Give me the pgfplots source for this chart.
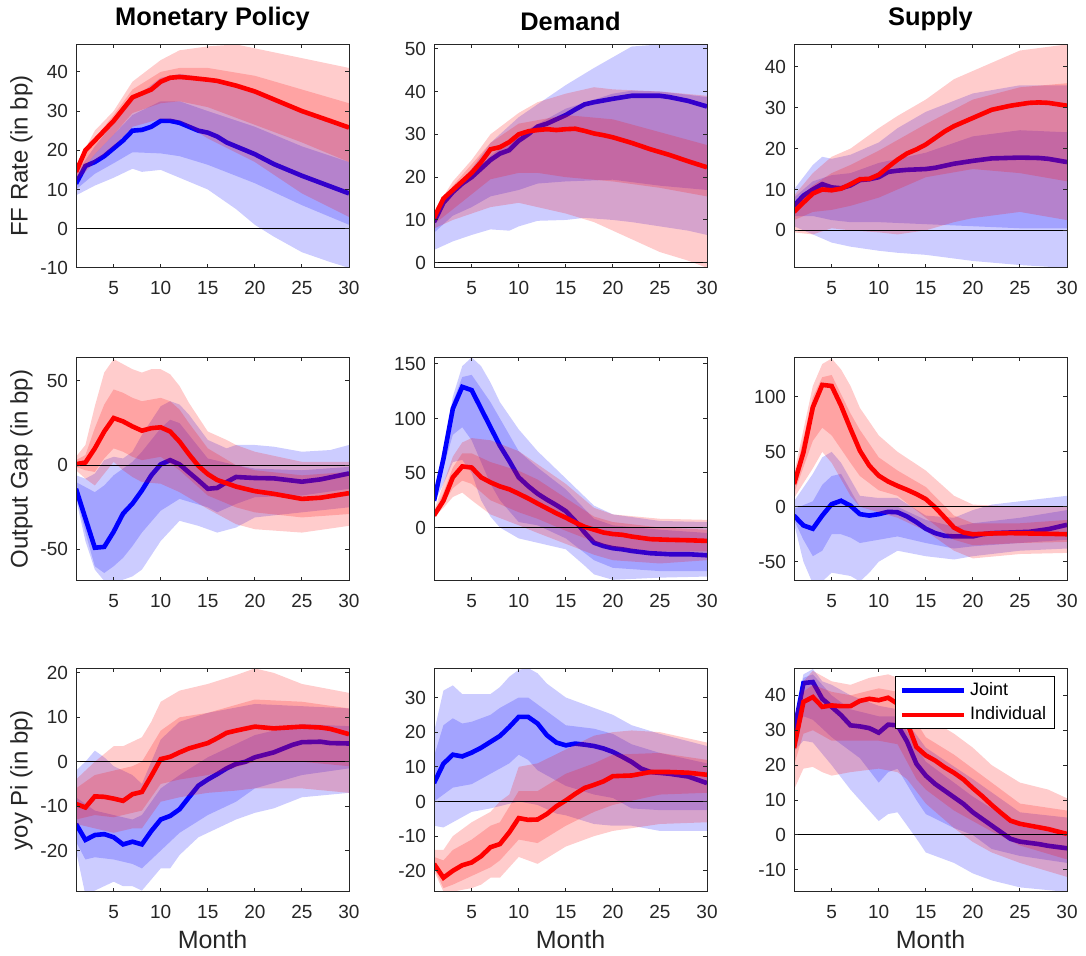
\documentclass[border=0pt]{standalone}
\usepackage{pgfplots}
\pgfplotsset{compat=1.18}
\usepackage{fontspec}
\setmainfont{Liberation Sans}
\definecolor{axisgray}{RGB}{38,38,38}
% band polygon: lower edge left to right, then upper edge right to left
\newcommand{\band}[2]{%
  \addplot[fill=#1, fill opacity=0.2, draw=none, forget plot] coordinates {#2} -- cycle;
}
\newcommand{\zeroline}{\addplot[forget plot, black, line width=0.5pt] coordinates {(1,0) (30,0)};}
\pgfplotsset{
  panel/.style={
    scale only axis, width=136.5pt, height=111.75pt,
    anchor=south west,
    xmin=1, xmax=30, xtick={5,10,15,20,25,30},
    tick align=inside, major tick length=2pt,
    axis line style={draw=axisgray, line width=0.5pt},
    every tick/.style={draw=axisgray, line width=0.5pt},
    tick label style={font=\fontsize{9.5}{11}\selectfont, text=axisgray},
    /pgf/number format/assume math mode=true,
    xticklabel style={yshift=-3pt},
    yticklabel style={xshift=-0.5pt},
    xlabel style={font=\fontsize{12.5}{14}\selectfont, text=axisgray,
      at={(axis description cs:0.5,0)}, anchor=base, yshift=-28.5pt},
    ylabel style={font=\fontsize{12}{14}\selectfont, text=axisgray,
      at={(axis description cs:-0.2,0.5)}, anchor=center},
    title style={font=\bfseries\fontsize{12.7}{14}\selectfont, yshift=-2.5pt},
    axis on top, scaled ticks=false,
  },
  bmed/.style={line width=2.3pt, blue},
  rmed/.style={line width=2.3pt, red},
}
\begin{document}
\begin{tikzpicture}

% ---------- Row 1: FF Rate ----------
\begin{axis}[panel, at={(38pt,343pt)}, ymin=-10, ymax=47, ytick={-10,0,10,20,30,40},
  title={Monetary Policy}, ylabel={FF Rate (in bp)}]
\band{blue}{(1,8.5)(3,11)(5,13)(7,15.3)(8,14.5)(10,15)(12,13)(15,10)(18,5)(20,1)(22,-2)(25,-6)(28,-8.5)(30,-10)(30,26)(25,30)(20,35)(15,38.5)(12,39.5)(10,38.5)(7,33)(5,27)(3,21)(1,14)}
\band{blue}{(1,10)(3,14)(5,16.7)(7,19.5)(10,19.2)(12,18.5)(15,16.3)(20,11.6)(25,6)(30,1)(30,17)(25,21)(20,26)(15,30)(12,32.5)(10,32.5)(7,29)(5,24)(3,19)(1,13)}
\addplot[bmed] coordinates {(1,11.5)(2,16)(3,17)(4,18.5)(5,20.5)(6,22.5)(7,25)(8,25.2)(9,26)(10,27.5)(11,27.5)(12,27)(13,26)(14,25)(15,24.5)(16,23.5)(17,22)(18,21)(20,19)(22,16.5)(25,13.5)(28,10.8)(30,9)};
\band{red}{(1,12)(3,17)(5,21)(7,26)(10,28)(12,27.5)(15,23)(20,17)(25,9)(30,3)(30,41)(28,42)(25,43.5)(22,45)(20,46)(18,47)(15,46.5)(12,45.5)(10,43)(7,37.5)(5,30)(3,25)(1,16)}
\band{red}{(1,13)(3,19)(5,24)(7,29.5)(10,32)(12,32.5)(15,31)(20,26.5)(25,22)(30,17)(30,32)(25,35.5)(20,39)(15,41)(12,41)(10,40)(7,35.5)(5,29)(3,23)(1,15)}
\addplot[rmed] coordinates {(1,14.5)(2,20)(3,22.5)(4,25)(5,27.5)(6,30.5)(7,33.5)(8,34.5)(9,35.5)(10,37.5)(11,38.5)(12,38.7)(13,38.5)(15,38)(16,37.7)(18,36.5)(20,35)(22,33)(25,30)(28,27.5)(30,25.8)};
\zeroline
\end{axis}

\begin{axis}[panel, at={(217pt,343pt)}, ymin=-1.2, ymax=51, ytick={0,10,20,30,40,50},
  title={Demand}]
\band{blue}{(1,3)(3,5)(5,6.5)(7,7.8)(9,7.5)(10,8.5)(12,9.8)(15,10)(17,10.5)(20,10)(22,9.5)(25,8.5)(28,7.5)(30,6.5)(30,51)(25,51)(22,50.5)(20,48)(18,45.5)(15,41.5)(12,37)(10,34)(7,28)(5,22)(3,17)(1,11)}
\band{blue}{(1,7)(3,11)(5,13)(7,15.5)(10,17)(12,18.5)(15,19)(20,19.4)(25,18)(30,17)(30,38.7)(25,40)(22,40.2)(20,39.5)(15,36)(10,30)(7,25)(5,20)(3,16)(1,10)}
\addplot[bmed] coordinates {(1,9.5)(2,14)(3,16.5)(4,18.5)(5,20)(6,22)(7,24)(8,25.5)(9,26.3)(10,28.5)(11,30)(12,31.8)(13,32.5)(14,33.5)(15,34.5)(16,35.8)(17,37)(18,37.5)(20,38.3)(22,39)(24,39)(25,39)(26,38.7)(28,37.8)(30,36.5)};
\band{red}{(1,8)(3,10)(5,11.5)(7,13)(10,14)(12,13)(15,11.5)(18,9.5)(20,7.5)(23,4.5)(25,2.5)(28,0.5)(30,-1.2)(30,39)(25,40)(20,40.5)(18,41)(15,39.5)(12,37.5)(10,35)(7,30)(5,24)(3,19)(1,12)}
\band{red}{(1,9)(3,12.5)(5,16)(7,19.5)(10,21)(12,21)(15,20)(20,19)(25,17.5)(30,15.5)(30,27.5)(25,30.5)(20,33.5)(15,34.5)(10,32.5)(7,28)(5,23)(3,18)(1,11)}
\addplot[rmed] coordinates {(1,10.5)(2,15)(3,17)(4,19)(5,21)(6,23.5)(7,26.5)(8,27)(9,28.2)(10,30)(11,30.7)(12,31)(13,31.2)(14,31)(15,31.2)(16,31.3)(17,30.8)(18,30.2)(19,29.8)(20,29.3)(22,28)(24,26.5)(26,25.2)(28,23.7)(30,22.3)};
\zeroline
\end{axis}

\begin{axis}[panel, at={(397pt,343pt)}, ymin=-9.2, ymax=45.5, ytick={0,10,20,30,40},
  title={Supply}]
\band{blue}{(1,1)(3,-1)(5,-3)(7,-4)(10,-5)(12,-5.5)(15,-6)(20,-7.5)(25,-8.5)(30,-9.2)(30,35.5)(25,35.5)(20,33.5)(15,29)(12,25)(10,21.5)(7,18.5)(5,17.5)(4,18)(3,16)(1,10)}
\band{blue}{(1,3.5)(3,3.5)(5,2.5)(7,2)(10,2)(15,1.5)(20,1)(25,0.5)(30,0.5)(30,24)(25,24.5)(20,23)(15,19)(10,16.5)(7,14)(5,13.5)(3,12)(1,8)}
\addplot[bmed] coordinates {(1,6)(2,8.5)(3,10)(4,11.3)(5,10.5)(6,10.3)(7,11)(8,12.3)(9,12.5)(10,13)(11,14.3)(12,14.6)(13,14.8)(15,15)(16,15.3)(18,16.3)(20,17)(22,17.6)(25,17.8)(27,17.7)(28,17.5)(30,16.7)};
\band{red}{(1,-0.5)(3,-1)(5,0.5)(7,0)(10,-0.5)(12,-1)(15,0)(18,2)(20,3)(25,4.5)(30,2.5)(30,45.5)(25,44)(20,39)(18,37)(15,32)(12,28)(10,25)(7,20)(5,18)(3,14)(1,8.5)}
\band{red}{(1,2.5)(3,4.5)(5,5)(7,6)(10,8)(15,13)(20,15)(25,14)(30,12)(30,36)(25,35)(20,32)(15,26)(10,19.5)(7,16)(5,14)(3,11)(1,6.5)}
\addplot[rmed] coordinates {(1,4.5)(2,6.8)(3,9)(4,10)(5,9.8)(6,10.2)(7,11.3)(8,12.5)(9,12.6)(10,13.6)(11,15.5)(12,17.3)(13,18.8)(14,19.8)(15,21)(16,22.6)(17,24.2)(18,25.5)(20,27.5)(22,29.5)(24,30.5)(26,31.2)(27,31.3)(28,31.2)(30,30.5)};
\zeroline
\end{axis}

% ---------- Row 2: Output Gap ----------
\begin{axis}[panel, at={(38pt,186.5pt)}, ymin=-68.7, ymax=64, ytick={-50,0,50},
  ylabel={Output Gap (in bp)}]
\band{blue}{(1,-20)(2,-45)(3,-62)(4,-68.7)(5,-68.7)(6,-68)(7,-66)(8,-62)(10,-45)(12,-33)(14,-36)(16,-40)(18,-37)(20,-31)(25,-28)(30,-25)(30,12)(28,9)(25,8)(22,11)(20,12)(18,12)(17,10)(15,15)(13,30)(12,36)(11,38)(10,35)(8,18)(7,8)(6,4)(5,5)(4,3)(3,-5)(2,-8)(1,-6)}
\band{blue}{(1,-18)(2,-40)(3,-60)(4,-64)(5,-60)(6,-55)(7,-48)(8,-40)(10,-27)(12,-20)(15,-25)(16,-28)(18,-23)(20,-19)(25,-18)(30,-14)(30,-1)(25,-3)(20,-2)(18,0)(15,4)(12,25)(11,27)(10,22)(8,8)(7,2)(6,-2)(5,-6)(4,-12)(3,-16)(2,-13)(1,-10)}
\addplot[bmed] coordinates {(1,-14)(2,-31.6)(3,-49)(4,-48.5)(5,-39.5)(6,-28.7)(7,-22.8)(8,-15)(9,-6)(10,0.5)(11,3)(12,0.5)(13,-4.3)(14,-9)(15,-14)(16,-13.5)(17,-10)(18,-7)(20,-7.6)(22,-7.8)(25,-9.8)(27,-8.4)(30,-4.9)};
\band{red}{(1,-3)(2,-8)(3,-12)(4,-5)(5,2)(6,-3)(7,-7)(8,-10)(10,-11)(12,-16)(15,-26)(18,-35)(20,-38)(25,-40)(30,-36)(30,2)(25,2)(20,8)(18,12)(17,15)(15,20)(13,37)(12,47)(11,54)(10,57)(9,57)(8,55)(7,57)(6,60)(5,63)(4,55)(3,35)(2,12)(1,5)}
\band{red}{(1,-1)(2,-3)(3,-4)(4,4)(5,10)(6,8)(7,5)(8,3)(10,5)(12,-3)(15,-18)(18,-25)(20,-28)(25,-31)(30,-29)(30,-4)(25,-6)(20,-3)(18,0)(15,10)(13,25)(12,33)(11,38)(10,40)(8,38)(7,40)(6,43)(5,45)(4,36)(3,22)(2,6)(1,3)}
\addplot[rmed] coordinates {(1,0.6)(2,1.6)(3,10)(4,20)(5,28)(6,26)(7,23)(8,20.5)(9,22)(10,22.5)(11,20)(12,14)(13,6.5)(14,-0.4)(15,-5.3)(16,-8.8)(17,-10.7)(18,-12.7)(20,-15.4)(22,-17)(25,-20)(27,-19.3)(30,-16.6)};
\zeroline
\end{axis}

\begin{axis}[panel, at={(217pt,186.5pt)}, ymin=-49, ymax=156, ytick={0,50,100,150}]
\band{blue}{(1,22)(2,40)(3,60)(4,62)(5,50)(6,25)(7,10)(8,0)(10,-10)(12,-14)(15,-20)(17,-35)(18,-43)(20,-48)(25,-46)(30,-45)(30,5)(25,6)(20,12)(18,20)(15,45)(12,70)(10,90)(8,115)(7,133)(6,148)(5,156)(4,148)(3,120)(2,70)(1,27)}
\band{blue}{(1,23)(2,55)(3,85)(4,92)(5,80)(6,60)(7,40)(8,25)(10,5)(12,2)(15,-10)(18,-30)(20,-37)(25,-40)(30,-40)(30,-5)(25,-2)(20,2)(18,8)(15,35)(12,55)(10,70)(7,115)(5,140)(4,138)(3,115)(2,70)(1,26)}
\addplot[bmed] coordinates {(1,24.5)(2,63)(3,109)(4,129)(5,126)(6,109)(7,92)(8,75)(9,61)(10,46)(11,38)(12,31)(13,25.5)(14,20.5)(15,15)(16,6)(17,-4.6)(18,-14)(19,-17)(20,-19)(21,-20)(22,-21.5)(24,-23.6)(26,-24.5)(28,-24.5)(30,-25.5)};
\band{red}{(1,10)(2,18)(3,28)(4,32)(5,25)(7,12)(10,2)(12,-5)(15,-15)(18,-25)(20,-30)(25,-33)(30,-30)(30,7)(25,8)(20,12)(18,18)(15,40)(12,58)(10,70)(7,80)(5,82)(4,78)(3,65)(2,40)(1,15)}
\band{red}{(1,11)(2,22)(3,36)(4,43)(5,40)(7,25)(10,14)(12,8)(15,-3)(18,-13)(20,-18)(25,-22)(30,-22)(30,-2)(25,0)(20,5)(18,10)(15,27)(12,44)(10,52)(7,60)(5,68)(4,68)(3,55)(2,32)(1,14)}
\addplot[rmed] coordinates {(1,11)(2,24.5)(3,46)(4,56)(5,55)(6,46)(7,41.4)(8,37.7)(9,35)(10,31)(11,26.7)(12,22)(13,17.5)(14,13)(15,9)(16,4.6)(17,0.6)(18,-2)(19,-4.6)(20,-6)(21,-6.7)(22,-8.3)(24,-10.7)(26,-11.3)(28,-11.7)(30,-12.3)};
\zeroline
\end{axis}

\begin{axis}[panel, at={(397pt,186.5pt)}, ymin=-67.5, ymax=136, ytick={-50,0,50,100}]
\band{blue}{(1,-15)(2,-50)(3,-70)(4,-68)(5,-60)(7,-63)(8,-68)(9,-60)(10,-50)(12,-40)(15,-45)(18,-48)(20,-45)(25,-40)(30,-38)(30,10)(25,5)(22,2)(20,-3)(18,-10)(15,-8)(12,8)(10,8)(8,10)(7,25)(6,40)(5,50)(4,45)(3,30)(1,5)}
\band{blue}{(1,-12)(2,-30)(3,-45)(4,-40)(5,-25)(6,-25)(7,-28)(8,-33)(10,-30)(12,-27)(15,-33)(18,-38)(20,-36)(25,-33)(30,-30)(30,-3)(25,-10)(20,-15)(18,-18)(15,-12)(12,0)(10,0)(8,0)(7,15)(6,30)(5,28)(4,20)(3,5)(1,-2)}
\addplot[bmed] coordinates {(1,-8)(2,-17)(3,-20)(4,-8)(5,2.4)(6,5.5)(7,1)(8,-6.7)(9,-8)(10,-6.7)(11,-4.6)(12,-5)(13,-8.8)(14,-14)(15,-20)(16,-24)(17,-26.4)(18,-27)(20,-27)(21,-25)(22,-24)(24,-23.4)(26,-22.8)(28,-20.4)(30,-16.4)};
\band{red}{(1,8)(3,35)(4,50)(5,40)(6,25)(7,10)(8,0)(10,-5)(12,-10)(15,-22)(18,-40)(20,-47)(25,-43)(30,-42)(30,0)(25,0)(20,2)(18,10)(15,33)(12,50)(10,65)(8,90)(7,110)(6,125)(5,135)(4,130)(3,110)(2,70)(1,30)}
\band{red}{(1,12)(3,60)(4,72)(5,65)(7,40)(8,28)(10,15)(12,10)(15,-10)(18,-30)(20,-35)(25,-33)(30,-32)(30,-12)(25,-15)(20,-15)(18,-8)(15,18)(12,33)(10,45)(8,70)(7,85)(5,120)(4,118)(3,100)(1,25)}
\addplot[rmed] coordinates {(1,20.7)(2,49.5)(3,90.6)(4,111)(5,110)(6,92)(7,71)(8,51)(9,37.4)(10,28.3)(11,23)(12,19)(13,15.5)(14,11.6)(15,7)(16,-0.6)(17,-9.7)(18,-19)(19,-23.4)(20,-25)(22,-24.3)(24,-24)(26,-24.3)(28,-24.6)(30,-25)};
\zeroline
\end{axis}

% ---------- Row 3: yoy Pi ----------
\begin{axis}[panel, at={(38pt,31pt)}, ymin=-29.3, ymax=21, ytick={-20,-10,0,10,20},
  ylabel={yoy Pi (in bp)}, xlabel={Month}]
\band{blue}{(1,-20)(2,-30)(3,-29)(4,-28)(5,-27)(6,-28)(7,-28)(8,-29)(10,-24)(11,-24)(12,-21)(14,-17)(15,-16)(18,-13)(20,-11.5)(22,-10.5)(25,-8)(30,-7)(30,12)(25,12.5)(20,13)(15,11)(12,9)(10,5)(8,-5)(7,-3)(6,-2)(5,-1)(4,1)(3,2.5)(2,0)(1,-2)}
\band{blue}{(1,-18)(2,-22)(3,-21.5)(5,-22)(7,-23)(8,-24)(10,-20)(12,-16)(15,-12)(18,-9)(20,-6)(25,-3)(30,-1.5)(30,8)(25,8.5)(20,6)(15,1)(12,-3)(10,-6)(8,-12)(7,-13)(5,-12)(3,-11)(1,-8)}
\addplot[bmed] coordinates {(1,-14)(2,-17.6)(3,-16.5)(4,-16.3)(5,-17)(6,-18.6)(7,-18)(8,-18.6)(9,-15.6)(10,-13)(11,-12.2)(12,-10.7)(13,-8)(14,-5.4)(15,-4)(16,-2.8)(17,-1.5)(18,-0.5)(19,0)(20,1)(22,2.1)(24,3.8)(25,4.4)(27,4.5)(28,4.2)(30,4.1)};
\band{red}{(1,-14)(3,-15)(5,-16)(7,-15)(8,-15)(10,-9)(12,-8)(15,-7)(18,-6.5)(20,-6)(25,-6)(30,-7)(30,15.5)(25,17.5)(22,20)(20,21)(18,19.5)(15,17.5)(12,16)(10,13.5)(9,9)(8,5.5)(7,4.5)(6,3.5)(5,3.5)(3,0)(1,-4)}
\band{red}{(1,-13)(3,-12)(5,-12.5)(7,-11.5)(8,-11)(10,-5)(12,-4)(15,-3)(20,0)(25,0)(30,-1)(30,12)(25,13.5)(20,14)(15,11)(12,10)(10,7)(8,0)(7,-1)(5,-2)(3,-3)(1,-6)}
\addplot[rmed] coordinates {(1,-9.5)(2,-10.3)(3,-7.8)(4,-7.9)(5,-8.3)(6,-8.8)(7,-7.3)(8,-6.8)(9,-3.2)(10,0.6)(11,1.1)(12,2.1)(13,3)(14,3.6)(15,4.2)(16,5.3)(17,6.5)(18,7)(20,7.9)(22,7.5)(25,7.9)(27,7.7)(28,7.4)(30,6.2)};
\zeroline
\end{axis}

\begin{axis}[panel, at={(217pt,31pt)}, ymin=-26.1, ymax=38.4, ytick={-20,-10,0,10,20,30},
  xlabel={Month}]
\band{blue}{(1,-7)(2,-7.5)(3,-6)(5,-3)(7,-2)(10,0)(12,-1)(14,-3.5)(15,-4)(18,-6.5)(20,-7)(22,-7)(25,-8.5)(30,-8.5)(30,16)(25,19.5)(22,22)(20,25)(18,27)(15,30)(13,34)(12,37)(11,38.5)(10,38)(9,36)(8,33)(7,31)(5,31)(4,31)(3,33.5)(2,32)(1,20)}
\band{blue}{(1,0)(2,2)(3,4)(5,5)(7,8)(9,11)(10,13.5)(11,12)(12,9)(14,6)(15,4.5)(18,2)(20,1)(22,-2)(25,-2.5)(30,-2.5)(30,11)(25,14)(22,16.5)(20,19.5)(18,21)(15,22)(13,26)(11,30)(10,30)(8,27)(7,25)(5,23)(4,22.5)(3,24)(2,22)(1,13)}
\addplot[bmed] coordinates {(1,5.3)(2,10.9)(3,13.5)(4,13)(5,14.1)(6,15.5)(7,17.2)(8,18.9)(9,21.5)(10,24.4)(11,24.4)(12,22.5)(13,19.1)(14,17)(15,16.2)(16,16.7)(17,16.4)(18,16)(19,15.3)(20,14.3)(21,12.9)(22,11.4)(23,9.5)(24,8.5)(26,8)(28,7.2)(30,5.3)};
\band{red}{(1,-20)(2,-26)(3,-26)(5,-25)(6,-24)(7,-22)(8,-22)(10,-16)(12,-18)(15,-13)(18,-10)(20,-8.5)(25,-6.5)(30,-6)(30,17)(25,20)(22,20.5)(20,20)(18,19)(15,15)(12,11)(10,10)(9,2)(8,0)(7,-3)(5,-6)(3,-10)(2,-14)(1,-14)}
\band{red}{(1,-19)(2,-25)(3,-24)(5,-21.5)(7,-19)(8,-17)(10,-11)(12,-12)(15,-7)(18,-3)(20,-1)(25,2)(30,2.5)(30,12)(25,14)(20,13.5)(18,11)(15,8)(12,3)(10,3)(8,-6)(7,-7)(5,-11)(3,-14)(2,-17)(1,-16)}
\addplot[rmed] coordinates {(1,-18)(2,-22)(3,-20)(4,-18.4)(5,-17.6)(6,-15.8)(7,-13.2)(8,-12.3)(9,-8.9)(10,-4.8)(11,-5.3)(12,-5.2)(13,-3.6)(14,-1.4)(15,0.3)(16,2.2)(17,3.9)(18,4.8)(19,5.8)(20,7.3)(22,7.5)(23,8)(24,8.5)(26,8.5)(28,8.3)(30,7.7)};
\zeroline
\end{axis}

\begin{axis}[panel, at={(397pt,31pt)}, ymin=-16.3, ymax=47.7, ytick={-10,0,10,20,30,40},
  xlabel={Month},
  legend style={at={(0.955,0.965)}, anchor=north east, draw=black, line width=0.5pt,
    font=\fontsize{9}{10}\selectfont, fill=white, fill opacity=1, text opacity=1,
    inner xsep=2pt, inner ysep=1pt, row sep=0pt, cells={anchor=west}},
  legend image code/.code={\draw[#1, line width=2.3pt] (0pt,0pt) -- (31pt,0pt);}]
\band{blue}{(1,24)(2,27)(3,26.5)(5,20)(7,13)(8,10)(10,4)(11,6)(12,6.5)(14,-1)(15,-5)(18,-8)(20,-11)(22,-13)(25,-15)(30,-16.3)(30,5)(25,6.5)(20,16)(15,25)(12,36)(10,37)(7,40)(5,43)(4,44)(3,47.5)(2,46)(1,33)}
\band{blue}{(1,26)(2,34)(3,33)(5,28)(7,24)(8,22)(10,15)(11,18)(12,19)(14,10)(15,6)(18,2)(20,0)(22,-4)(25,-6)(30,-8)(30,0)(25,2.5)(20,11)(15,21)(12,34)(10,34)(7,36)(5,40)(3,46)(2,45)(1,32)}
\addplot[bmed] coordinates {(1,29.5)(2,43.5)(3,43.8)(4,39)(5,36.7)(6,34.3)(7,31.4)(8,31.1)(9,30.6)(10,29.3)(11,31.6)(12,31.4)(13,26.8)(14,20.4)(15,17)(16,14.6)(17,12.7)(18,10.8)(19,8.9)(20,6.5)(21,4.6)(22,2.7)(23,0.8)(24,-1.1)(25,-1.9)(27,-2.6)(28,-3.1)(30,-3.8)};
\band{red}{(1,13)(2,19)(3,19.5)(4,18)(5,17)(7,18)(10,19)(12,18)(13,16)(15,9)(18,2)(20,-2)(22,-5)(25,-8)(30,-12)(30,10.5)(28,13)(25,15)(22,20)(20,25)(18,29)(15,34)(13,42)(12,45)(11,46)(9,45)(7,43)(5,44)(3,47)(2,44)(1,33)}
\band{red}{(1,20)(2,29)(3,30)(5,27)(7,27)(10,27)(12,26)(14,16)(15,13)(18,7)(20,4)(22,1)(25,-3)(30,-7)(30,7)(25,9)(22,15)(20,19)(18,23)(15,28)(12,41)(10,42)(7,40)(5,41)(3,43)(2,41)(1,29)}
\addplot[rmed] coordinates {(1,24.9)(2,38.1)(3,39.5)(4,36.7)(5,37.1)(6,36.9)(7,36.9)(8,38.4)(9,39)(10,38.6)(11,39.3)(12,37.6)(13,32.3)(14,25.2)(15,22.8)(16,21.3)(17,19.4)(18,17.8)(19,15.9)(20,13.4)(21,11.1)(22,8.6)(23,6.3)(24,4.1)(25,3.2)(27,2.2)(28,1.7)(30,0.3)};
\zeroline
\legend{Joint, Individual}
\end{axis}
\useasboundingbox (0,0) rectangle (543pt,474pt);
\end{tikzpicture}
\end{document}
